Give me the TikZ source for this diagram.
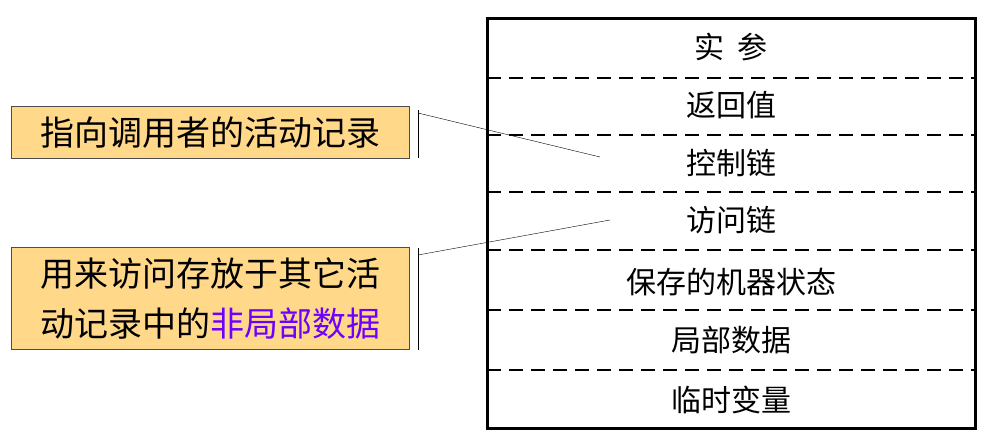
\documentclass[tikz,border=0pt]{standalone}
\usepackage{fontspec}
\setmainfont{Noto Sans CJK SC}
\definecolor{notefill}{RGB}{255,216,138}
\definecolor{nonlocal}{RGB}{110,0,255}
\begin{document}
\begin{tikzpicture}[x=1pt,y=-1pt,
    note/.style={draw=black!70, fill=notefill, line width=1pt, anchor=north west, align=center, font=\fontsize{34}{50}\selectfont, inner sep=0pt, text width=398pt},
    field/.style={font=\fontsize{30}{34}\selectfont},
    sep/.style={line width=2.5pt, dash pattern=on 14pt off 8pt}]
    \useasboundingbox (0,0) rectangle (997,445);
    % frame of the record
    \draw [line width=3pt] (487,18) rectangle (975,428);
    % separators
    \foreach \y in {78,135,192,250,310,370}
        \draw [sep] (487,\y) -- (975,\y);
    % fields
    \node [field] (args) at (731,47) {实\ \ 参};
    \node [field] (ret) at (731,105) {返回值};
    \node [field] (ctrl) at (731,163) {控制链};
    \node [field] (acc) at (731,220) {访问链};
    \node [field] (state) at (731,282) {保存的机器状态};
    \node [field] (local) at (731,340) {局部数据};
    \node [field] (temp) at (731,400) {临时变量};
    % notes
    \node [note, minimum height=52pt] (noteA) at (11,106) {指向调用者的活动记录};
    \node [note, minimum height=102pt] (noteB) at (11,247) {用来访问存放于其它活\\动记录中的\textcolor{nonlocal}{非局部数据}};
    % callout brackets
    \coordinate (barA) at (418,110);
    \coordinate (barB) at (418,248);
    \coordinate (tipA) at (600,157);
    \coordinate (tipB) at (610,220);
    \draw (barA) -- ++(0,48);
    \draw (barB) -- ++(0,102);
    \draw (barA) ++(0,3) -- (tipA);
    \draw (barB) ++(0,7) -- (tipB);
\end{tikzpicture}
\end{document}
